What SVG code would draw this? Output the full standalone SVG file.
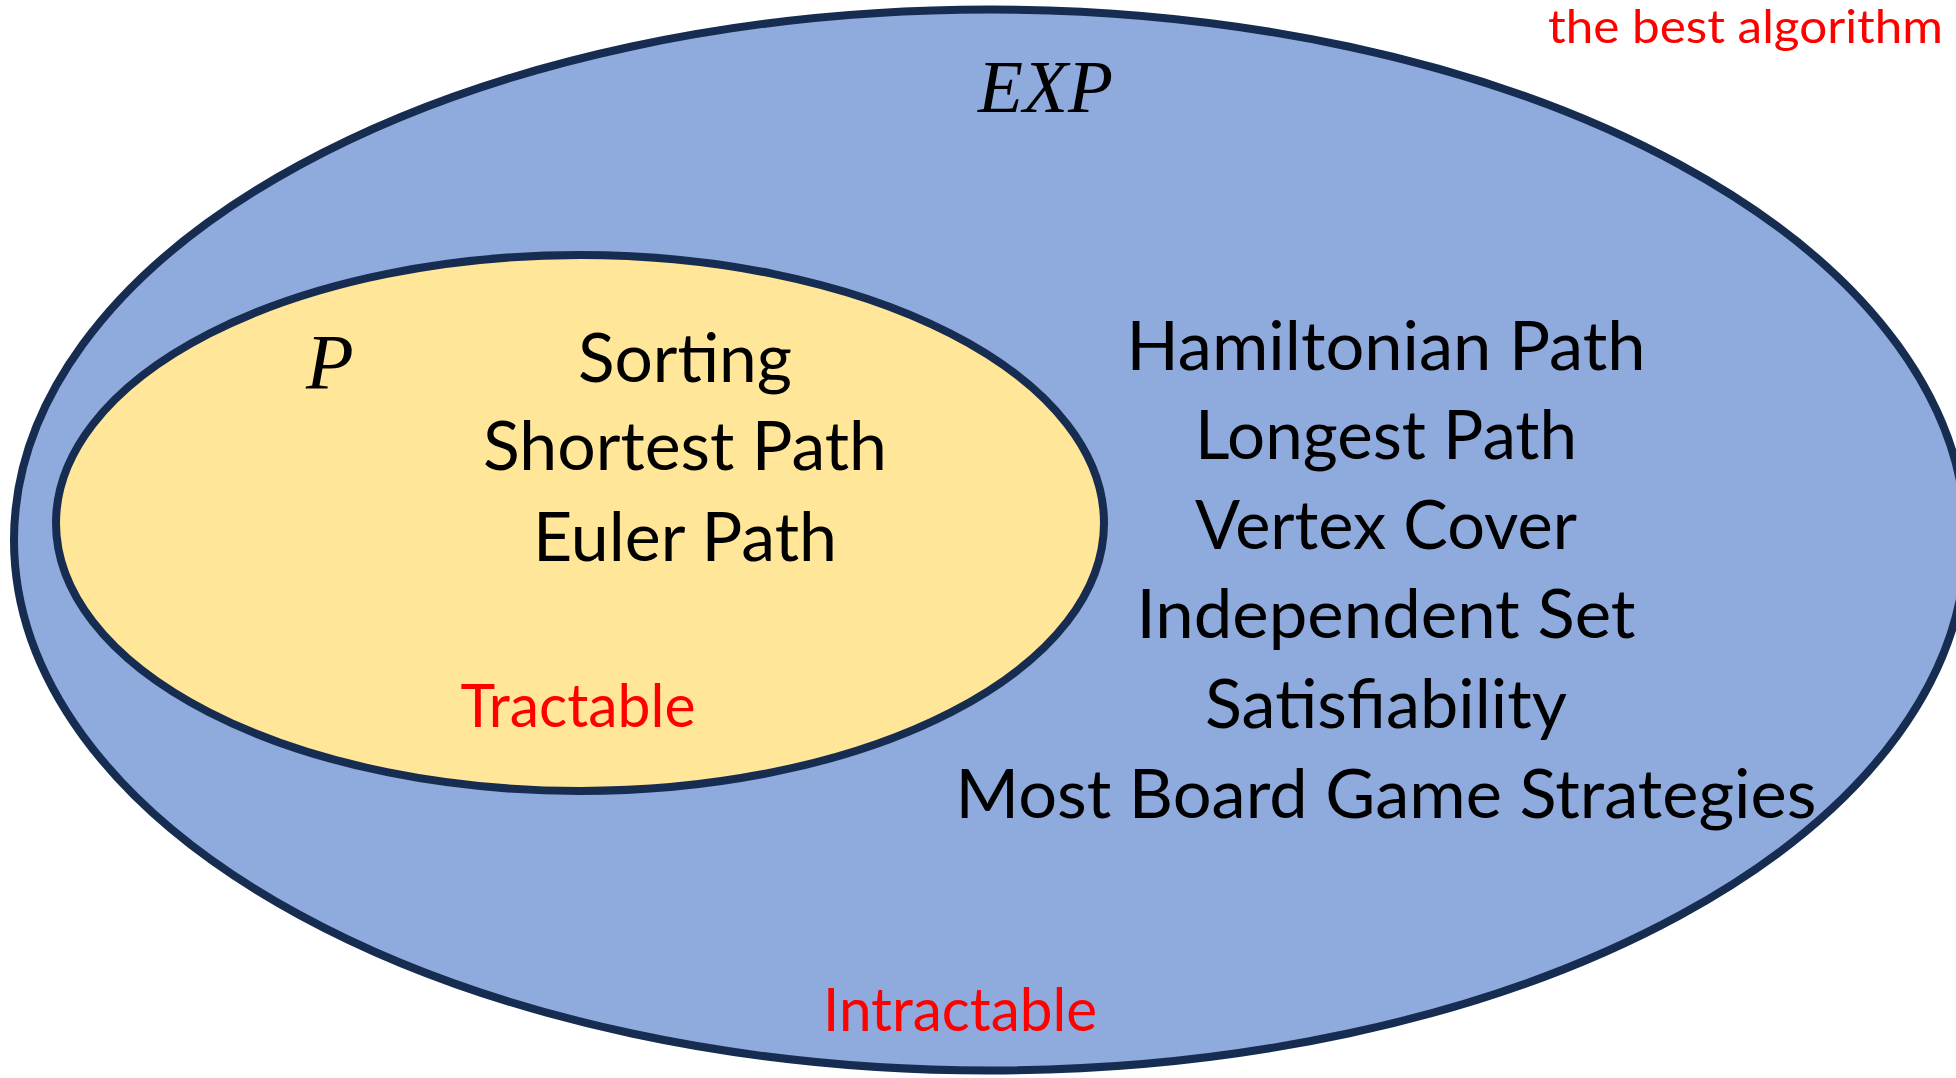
<svg xmlns="http://www.w3.org/2000/svg" width="1956" height="1078" viewBox="0 0 1956 1078">
<style>
.set{stroke:#172c51;stroke-width:8}
.exp{fill:#8faadc}
.p{fill:#ffe699}
.t{font-family:Lato,"Open Sans","Liberation Sans",sans-serif;font-size:67px;fill:#000;text-anchor:middle}
.red{font-family:Lato,"Open Sans","Liberation Sans",sans-serif;fill:#ff0000}
.math{font-family:"Liberation Serif","DejaVu Serif",serif;font-style:italic;fill:#000}
</style>
<rect width="1956" height="1078" fill="#ffffff"/>
<g id="node-exp">
<ellipse class="set exp" cx="990" cy="540" rx="976" ry="530.5"/>
<text class="math" x="978" y="112" font-size="75" textLength="135" lengthAdjust="spacingAndGlyphs">EXP</text>
<g class="t">
<text x="1386" y="370" textLength="519" lengthAdjust="spacingAndGlyphs">Hamiltonian Path</text>
<text x="1386" y="459" textLength="382" lengthAdjust="spacingAndGlyphs">Longest Path</text>
<text x="1386" y="549" textLength="382" lengthAdjust="spacingAndGlyphs">Vertex Cover</text>
<text x="1386" y="638" textLength="499" lengthAdjust="spacingAndGlyphs">Independent Set</text>
<text x="1386" y="728" textLength="362" lengthAdjust="spacingAndGlyphs">Satisfiability</text>
<text x="1386" y="818" textLength="861" lengthAdjust="spacingAndGlyphs">Most Board Game Strategies</text>
</g>
<text class="red" x="960" y="1031" font-size="60" text-anchor="middle" textLength="274" lengthAdjust="spacingAndGlyphs">Intractable</text>
</g>
<g id="node-p">
<ellipse class="set p" cx="580" cy="523" rx="524" ry="268"/>
<text class="math" x="306" y="388" font-size="78">P</text>
<g class="t">
<text x="685" y="382" textLength="214" lengthAdjust="spacingAndGlyphs">Sorting</text>
<text x="685" y="470" textLength="404" lengthAdjust="spacingAndGlyphs">Shortest Path</text>
<text x="685" y="561" textLength="304" lengthAdjust="spacingAndGlyphs">Euler Path</text>
</g>
<text class="red" x="578" y="727" font-size="60" text-anchor="middle" textLength="235" lengthAdjust="spacingAndGlyphs">Tractable</text>
</g>
<g id="note">
<text class="red" x="1548" y="43" font-size="47" textLength="395" lengthAdjust="spacingAndGlyphs">the best algorithm</text>
</g>
<g id="connectors"/>
</svg>
